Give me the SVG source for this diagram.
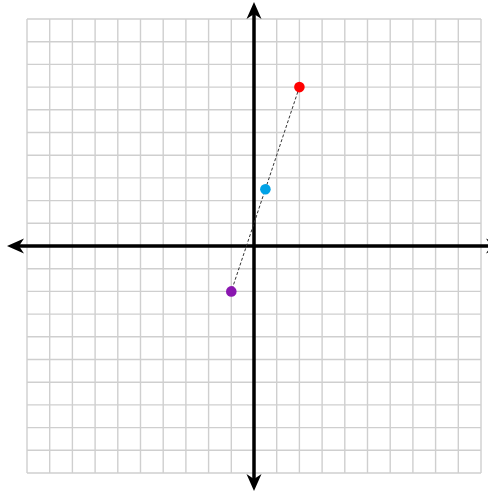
<svg xmlns="http://www.w3.org/2000/svg" width="488" height="495" viewBox="0 0 488 495">
<defs>
<style>
.grid line{stroke:#cfcfcf;stroke-width:1.4}
.axis{stroke:#000;stroke-width:3.5;fill:none}
.seg{stroke:#333;stroke-width:1;stroke-dasharray:3,2;fill:none}
</style>
<marker id="ah" viewBox="0 0 18 16" refX="8" refY="8" markerWidth="18" markerHeight="16" markerUnits="userSpaceOnUse" orient="auto-start-reverse">
<path d="M17,8 L0,0.5 L5,8 L0,15.5 Z" fill="#000"/>
</marker>
</defs>
<rect width="488" height="495" fill="#fff"/>
<g id="grid" class="grid">
<line x1="27" y1="19" x2="27" y2="473"/>
<line x1="49.7" y1="19" x2="49.7" y2="473"/>
<line x1="72.4" y1="19" x2="72.4" y2="473"/>
<line x1="95.1" y1="19" x2="95.1" y2="473"/>
<line x1="117.8" y1="19" x2="117.8" y2="473"/>
<line x1="140.5" y1="19" x2="140.5" y2="473"/>
<line x1="163.2" y1="19" x2="163.2" y2="473"/>
<line x1="185.9" y1="19" x2="185.9" y2="473"/>
<line x1="208.6" y1="19" x2="208.6" y2="473"/>
<line x1="231.3" y1="19" x2="231.3" y2="473"/>
<line x1="254" y1="19" x2="254" y2="473"/>
<line x1="276.7" y1="19" x2="276.7" y2="473"/>
<line x1="299.4" y1="19" x2="299.4" y2="473"/>
<line x1="322.1" y1="19" x2="322.1" y2="473"/>
<line x1="344.8" y1="19" x2="344.8" y2="473"/>
<line x1="367.5" y1="19" x2="367.5" y2="473"/>
<line x1="390.2" y1="19" x2="390.2" y2="473"/>
<line x1="412.9" y1="19" x2="412.9" y2="473"/>
<line x1="435.6" y1="19" x2="435.6" y2="473"/>
<line x1="458.3" y1="19" x2="458.3" y2="473"/>
<line x1="481" y1="19" x2="481" y2="473"/>
<line x1="27" y1="19" x2="481" y2="19"/>
<line x1="27" y1="41.7" x2="481" y2="41.7"/>
<line x1="27" y1="64.4" x2="481" y2="64.4"/>
<line x1="27" y1="87.1" x2="481" y2="87.1"/>
<line x1="27" y1="109.8" x2="481" y2="109.8"/>
<line x1="27" y1="132.5" x2="481" y2="132.5"/>
<line x1="27" y1="155.2" x2="481" y2="155.2"/>
<line x1="27" y1="177.9" x2="481" y2="177.9"/>
<line x1="27" y1="200.6" x2="481" y2="200.6"/>
<line x1="27" y1="223.3" x2="481" y2="223.3"/>
<line x1="27" y1="246" x2="481" y2="246"/>
<line x1="27" y1="268.7" x2="481" y2="268.7"/>
<line x1="27" y1="291.4" x2="481" y2="291.4"/>
<line x1="27" y1="314.1" x2="481" y2="314.1"/>
<line x1="27" y1="336.8" x2="481" y2="336.8"/>
<line x1="27" y1="359.5" x2="481" y2="359.5"/>
<line x1="27" y1="382.2" x2="481" y2="382.2"/>
<line x1="27" y1="404.9" x2="481" y2="404.9"/>
<line x1="27" y1="427.6" x2="481" y2="427.6"/>
<line x1="27" y1="450.3" x2="481" y2="450.3"/>
<line x1="27" y1="473" x2="481" y2="473"/>
</g>
<g id="axes">
<line class="axis" x1="16" y1="246" x2="494" y2="246" marker-start="url(#ah)" marker-end="url(#ah)"/>
<line class="axis" x1="254" y1="11" x2="254" y2="482" marker-start="url(#ah)" marker-end="url(#ah)"/>
</g>
<g id="connectors">
<line class="seg" x1="299.4" y1="87.1" x2="231.3" y2="291.4"/>
</g>
<g id="point-red"><circle cx="299.4" cy="87.1" r="5.3" fill="#ff0000"/></g>
<g id="point-blue"><circle cx="265.4" cy="189.3" r="5.3" fill="#00a2e6"/></g>
<g id="point-purple"><circle cx="231.3" cy="291.4" r="5.3" fill="#8a16b0"/></g>
</svg>
